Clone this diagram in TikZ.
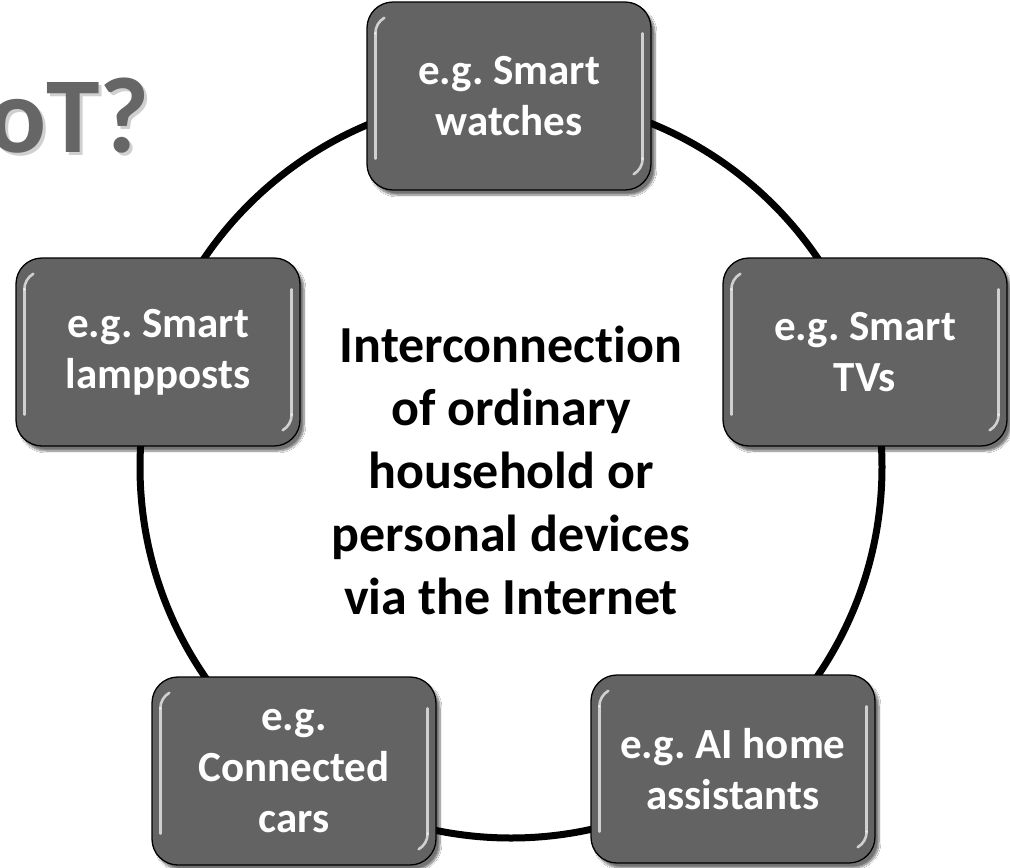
\documentclass[tikz,border=0pt]{standalone}
\usepackage{fontspec}
\setmainfont{Carlito}[Ligatures=NoCommon]
\usetikzlibrary{shadows.blur}
\definecolor{boxgray}{HTML}{636363}
\definecolor{titlegray}{HTML}{666666}
\frenchspacing
\begin{document}
\begin{tikzpicture}[x=1pt,y=-1pt]
\tikzset{
  device/.style={draw=black, line width=1.3pt, fill=boxgray, rounded corners=26pt,
    minimum width=284pt, minimum height=188pt, text=white, align=center,
    font=\bfseries\fontsize{43}{51}\selectfont,
    blur shadow={shadow xshift=4pt, shadow yshift=-5pt, shadow blur steps=8, shadow opacity=55}},
  ring/.style={draw=black, line width=7pt, circle, minimum size=742pt, inner sep=0pt},
  gloss/.style={draw=white, line width=2.6pt, opacity=0.7, line cap=round},
  hub/.style={align=center, text=black, font=\bfseries\fontsize{52}{63}\selectfont},
  title/.style={anchor=base west, inner sep=0pt, font=\bfseries\fontsize{108}{108}\selectfont}
}
\fill[white] (0,0) rectangle (1010,868);
\useasboundingbox (0,0) rectangle (1010,868);
\clip (0,0) rectangle (1010,868);

% heading, partly cut off at the left edge, with a soft shadow
\node[title, text=black!30, opacity=0.6] (titleshadow) at (-9,155) {oT?};
\node[title, text=titlegray] (title) at (-12,152) {oT?};

% ring joining the devices
\node[ring] (ring) at (511,467) {};

% devices on the ring
\node[device] (watch) at (509,96)  {e.g. Smart\\watches};
\node[device] (tv)    at (865,352) {e.g. Smart\\TVs};
\node[device] (lamp)  at (158,352) {e.g. Smart\\lampposts};
\node[device] (car)   at (294,771) {e.g.\\Connected\\cars};
\node[device] (ai)    at (733,769) {e.g. AI home\\assistants};

% glossy edge highlights
\foreach \n in {watch,tv,lamp,car,ai} {
  \draw[gloss] ([xshift=9pt,yshift=-32pt]\n.north west) -- ([xshift=9pt,yshift=32pt]\n.south west);
  \draw[gloss] ([xshift=-9pt,yshift=-32pt]\n.north east) -- ([xshift=-9pt,yshift=32pt]\n.south east);
  \draw[gloss] ([xshift=9pt,yshift=-32pt]\n.north west) arc[start angle=180, end angle=120, radius=18pt];
  \draw[gloss] ([xshift=-9pt,yshift=32pt]\n.south east) arc[start angle=0, end angle=-60, radius=18pt];
}

% centre statement
\node[hub] (hub) at (511,470) {Interconnection\\of ordinary\\household or\\personal devices\\via the Internet};
\end{tikzpicture}
\end{document}
